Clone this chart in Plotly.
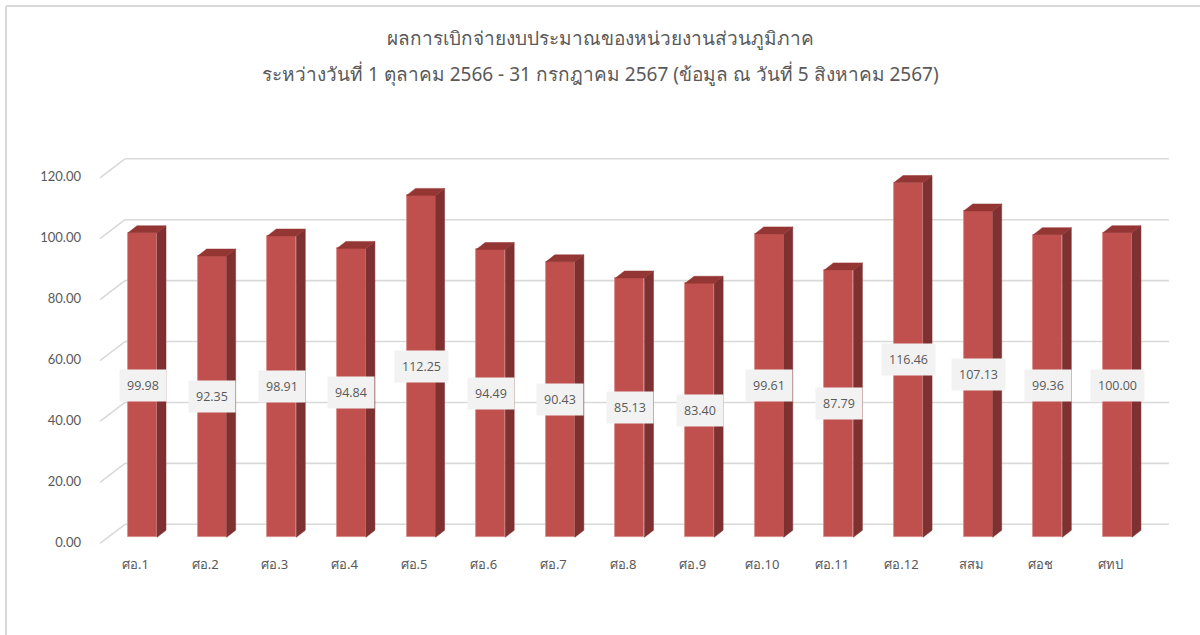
import plotly.graph_objects as go

# ---- data ----
categories = ["ศอ.1", "ศอ.2", "ศอ.3", "ศอ.4", "ศอ.5", "ศอ.6", "ศอ.7", "ศอ.8",
              "ศอ.9", "ศอ.10", "ศอ.11", "ศอ.12", "สสม", "ศอช", "ศทป"]
values = [99.98, 92.35, 98.91, 94.84, 112.25, 94.49, 90.43, 85.13,
          83.40, 99.61, 87.79, 116.46, 107.13, 99.36, 100.00]
y_ticks = [0, 20, 40, 60, 80, 100, 120]
title_line1 = "ผลการเบิกจ่ายงบประมาณของหน่วยงานส่วนภูมิภาค"
title_line2 = "ระหว่างวันที่ 1 ตุลาคม 2566 - 31 กรกฎาคม 2567 (ข้อมูล ณ วันที่ 5 สิงหาคม 2567)"

# ---- layout geometry (pixels) ----
W_FIG, H_FIG = 1200, 635
L, R, T, B = 90, 1190, 100, 550
PX_PER_CAT = 69.64
PX_PER_UNIT = 3.046
ZERO_PX = 537.3
FIRST_PX = 142.5

x0 = -(FIRST_PX - L) / PX_PER_CAT
x1 = x0 + (R - L) / PX_PER_CAT
y0 = -(B - ZERO_PX) / PX_PER_UNIT
y1 = y0 + (B - T) / PX_PER_UNIT

BAR_W = 29 / PX_PER_CAT
DEPTH_X = 9 / PX_PER_CAT
DEPTH_Y = 7 / PX_PER_UNIT
WALL_DY = 13 / PX_PER_UNIT
STUB_DY = 6 / PX_PER_UNIT
STUB_LEFT = -(FIRST_PX - 100) / PX_PER_CAT
WALL_LEFT = -(FIRST_PX - 125) / PX_PER_CAT
WALL_RIGHT = (1169 - FIRST_PX) / PX_PER_CAT

FRONT = "#C0504D"
SIDE = "#7E3130"
TOP = "#943634"
GRID = "#D9D9D9"
TXT = "#595959"

xs = list(range(len(categories)))

fig = go.Figure()

# side and top faces of the 3D bars
sx, sy = [], []
tx, ty = [], []
for x, v in zip(xs, values):
    r = x + BAR_W / 2
    l = x - BAR_W / 2
    sx += [r, r + DEPTH_X, r + DEPTH_X, r, r, None]
    sy += [0, DEPTH_Y, v + DEPTH_Y, v, 0, None]
    tx += [l, r, r + DEPTH_X, l + DEPTH_X, l, None]
    ty += [v, v, v + DEPTH_Y, v + DEPTH_Y, v, None]
fig.add_trace(go.Scatter(x=sx, y=sy, mode="lines", fill="toself", fillcolor=SIDE,
                         line=dict(color=SIDE, width=0.5), hoverinfo="skip", showlegend=False))
fig.add_trace(go.Scatter(x=tx, y=ty, mode="lines", fill="toself", fillcolor=TOP,
                         line=dict(color=TOP, width=0.5), hoverinfo="skip", showlegend=False))

# front faces
fig.add_trace(go.Bar(x=xs, y=values, width=BAR_W, marker=dict(color=FRONT,
                     line=dict(color="#D88482", width=0.8)), showlegend=False,
                     hovertemplate="%{customdata}: %{y:.2f}<extra></extra>",
                     customdata=categories))

# back-wall gridlines and diagonal stubs (behind bars)
shapes = []
for t in y_ticks:
    shapes.append(dict(type="line", xref="x", yref="y", layer="below",
                       x0=WALL_LEFT, x1=WALL_RIGHT, y0=t + WALL_DY, y1=t + WALL_DY,
                       line=dict(color=GRID, width=1.6)))
    shapes.append(dict(type="line", xref="x", yref="y", layer="below",
                       x0=STUB_LEFT, x1=WALL_LEFT, y0=t - STUB_DY, y1=t + WALL_DY,
                       line=dict(color=GRID, width=1.6)))
# chart-area frame
shapes += [dict(type="line", xref="paper", yref="paper",
                x0=(6 - L) / (R - L), x1=(1210 - L) / (R - L),
                y0=(B - 6) / (B - T), y1=(B - 6) / (B - T),
                line=dict(color=GRID, width=2)),
           dict(type="line", xref="paper", yref="paper",
                x0=(6 - L) / (R - L), x1=(6 - L) / (R - L),
                y0=(B - 6) / (B - T), y1=(B - 645) / (B - T),
                line=dict(color=GRID, width=2))]

# data labels
for x, v in zip(xs, values):
    fig.add_annotation(x=x, y=v / 2, text=f"{v:.2f}", showarrow=False,
                       bgcolor="#F2F2F2", borderpad=7,
                       font=dict(family="Open Sans, Noto Sans, sans-serif", size=12.5, color=TXT))

fig.update_layout(
    width=W_FIG, height=H_FIG,
    margin=dict(l=L, r=W_FIG - R, t=T, b=H_FIG - B),
    paper_bgcolor="white", plot_bgcolor="white",
    title=dict(text=title_line1, x=0.5, xref="container", xanchor="center",
               y=1 - 38 / H_FIG, yref="container", yanchor="middle",
               font=dict(family="Noto Sans, sans-serif", size=19, color=TXT)),
    xaxis=dict(range=[x0, x1], tickmode="array", tickvals=xs, ticktext=categories,
               showgrid=False, zeroline=False, showline=False, ticks="",
               ticklabelshift=-7, ticklabelstandoff=5,
               tickfont=dict(family="Noto Sans, sans-serif", size=13, color=TXT)),
    yaxis=dict(range=[y0, y1], tickmode="array", tickvals=y_ticks,
               ticktext=[f"{t:.2f}" for t in y_ticks],
               showgrid=False, zeroline=False, showline=False, ticks="",
               ticklabelshift=5, ticklabelstandoff=8,
               tickfont=dict(family="Lato, Noto Sans, sans-serif", size=13, color=TXT)),
    bargap=0,
    shapes=shapes,
)
fig.add_annotation(text=title_line2, xref="paper", yref="paper",
                   x=(600 - L) / (R - L), y=(B - 74) / (B - T),
                   xanchor="center", yanchor="middle", showarrow=False,
                   font=dict(family="Noto Sans, sans-serif", size=19, color=TXT))

fig.write_html("out.html", config={"displayModeBar": False},
               post_script="document.body.style.margin='0';")
